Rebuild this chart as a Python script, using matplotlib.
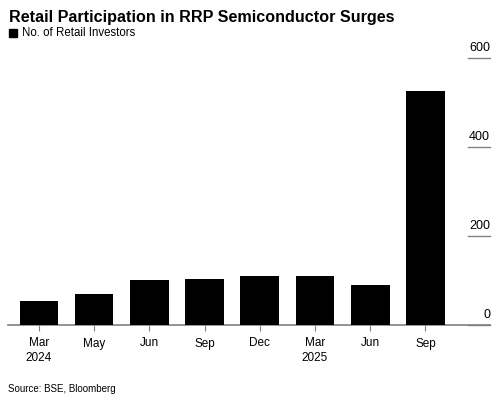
import numpy as np
import matplotlib.pyplot as plt
import matplotlib.transforms as mtransforms
from matplotlib.patches import Rectangle

plt.rcParams['font.family'] = ['Liberation Sans', 'DejaVu Sans']

months = ['Mar', 'May', 'Jun', 'Sep', 'Dec', 'Mar', 'Jun', 'Sep']
years = ['2024', '', '', '', '', '2025', '', '']
investors = [55, 70, 101, 103, 109, 109, 91, 525]
yticks = [0, 200, 400, 600]

W, H = 500, 401
fig = plt.figure(figsize=(W / 100, H / 100), dpi=100)
ax = fig.add_axes([8 / W, 1 - 325 / H, 482 / W, (325 - 58) / H])

x = np.arange(len(months))
ax.bar(x, investors, width=0.7, color='black', zorder=3)
ax.set_xlim(-0.56, 8.17)
ax.set_ylim(0, 600)

for s in ['top', 'right', 'left']:
    ax.spines[s].set_visible(False)
ax.spines['bottom'].set_color('#808080')
ax.spines['bottom'].set_linewidth(1.2)

ax.set_yticks([])
labels = [m if y == '' else m + '\n' + y for m, y in zip(months, years)]
ax.set_xticks(x)
ax.set_xticklabels(labels, fontsize=8.5, linespacing=1.3)
ax.tick_params(axis='x', length=4, color='#808080', pad=5)

# short gridlines with labels on the right
trans = mtransforms.blended_transform_factory(ax.transAxes, ax.transData)
for v in yticks:
    ax.plot([0.955, 1.0], [v, v], color='#808080', lw=1.0, transform=trans,
            clip_on=False)
    ax.annotate(str(v), xy=(1.0, v), xycoords=trans, xytext=(0, 3),
                textcoords='offset points', ha='right', va='bottom',
                fontsize=9)

fig.text(9 / W, 1 - 22 / H, 'Retail Participation in RRP Semiconductor Surges',
         fontsize=11.6, fontweight='bold', ha='left', va='baseline')
fig.patches.append(Rectangle((9 / W, 1 - 37 / H), 8 / W, 8 / H,
                             transform=fig.transFigure, color='black'))
fig.text(22 / W, 1 - 36 / H, 'No. of Retail Investors', fontsize=8.3,
         ha='left', va='baseline')
fig.text(8 / W, 1 - 392 / H, 'Source: BSE, Bloomberg', fontsize=7,
         ha='left', va='baseline')

fig.savefig('out.png', dpi=100)
